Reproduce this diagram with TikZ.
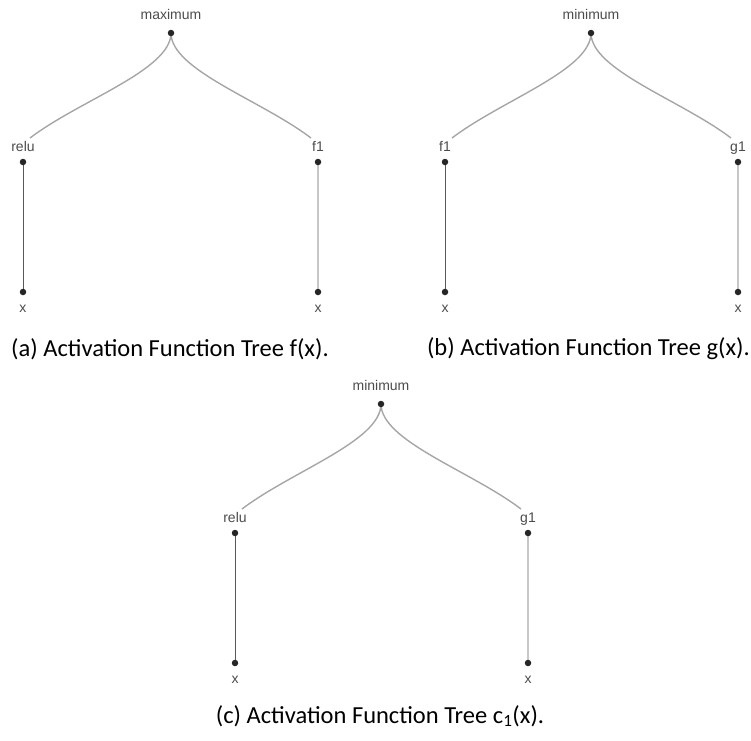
\documentclass[tikz,border=0pt]{standalone}
\usepackage{fontspec}
\setmainfont{Carlito}
\newfontfamily\lblfont{Liberation Sans}
\usetikzlibrary{backgrounds}
\newcommand\acttree[8]{%
 \node[dotn] (#1r) at (#5,{33+#8}) {};
 \node[lbl] (#1rt) at (#5,{19+#8}) {#2};
 \node[dotn] (#1l) at (#6,{162+#8}) {};
 \node[lbl] (#1lt) at (#6,{151+#8}) {#3};
 \node[dotn] (#1rr) at (#7,{162+#8}) {};
 \node[lbl] (#1rrt) at (#7,{151+#8}) {#4};
 \node[dotn] (#1lb) at (#6,{292+#8}) {};
 \node[lbl] (#1lbt) at (#6,{312+#8}) {x};
 \node[dotn] (#1rb) at (#7,{292+#8}) {};
 \node[lbl] (#1rbt) at (#7,{312+#8}) {x};
 \coordinate (#1le) at ({#6+7},{138+#8});
 \coordinate (#1re) at ({#7-7},{138+#8});
 \begin{pgfonlayer}{background}
 \draw[curve] (#1r.center) .. controls +(0,37) and +(50,-38) .. (#1le);
 \draw[curve] (#1r.center) .. controls +(0,37) and +(-50,-38) .. (#1re);
 \draw[lstem] (#1l.center) -- (#1lb.center);
 \draw[rstem] (#1rr.center) -- (#1rb.center);
 \end{pgfonlayer}
}
\begin{document}
\begin{tikzpicture}[x=1pt,y=-1pt,
 dotn/.style={circle,fill=black!85,inner sep=0pt,minimum size=6.5pt},
 lbl/.style={font=\lblfont\fontsize{14}{14}\selectfont,text=black!70,inner sep=0pt,anchor=base},
 curve/.style={draw=black!35,line width=1.4pt},
 lstem/.style={draw=black!65,line width=1pt},
 rstem/.style={draw=black!22,line width=2.2pt},
 captext/.style={font=\fontsize{24.5}{28}\selectfont,inner sep=0pt}]
\useasboundingbox (0,0) rectangle (751,740);
\acttree{a}{maximum}{relu}{f1}{171}{23}{318}{0}
\acttree{b}{minimum}{f1}{g1}{591}{445}{738}{0}
\acttree{c}{minimum}{relu}{g1}{381}{235}{528}{371}
\node[captext] (capa) at (170,349) {(a) Activation Function Tree f(x).};
\node[captext,anchor=east] (capb) at (750,349) {(b) Activation Function Tree g(x).};
\node[captext] (capc) at (380,716) {(c) Activation Function Tree c\textsubscript{1}(x).};
\end{tikzpicture}
\end{document}
